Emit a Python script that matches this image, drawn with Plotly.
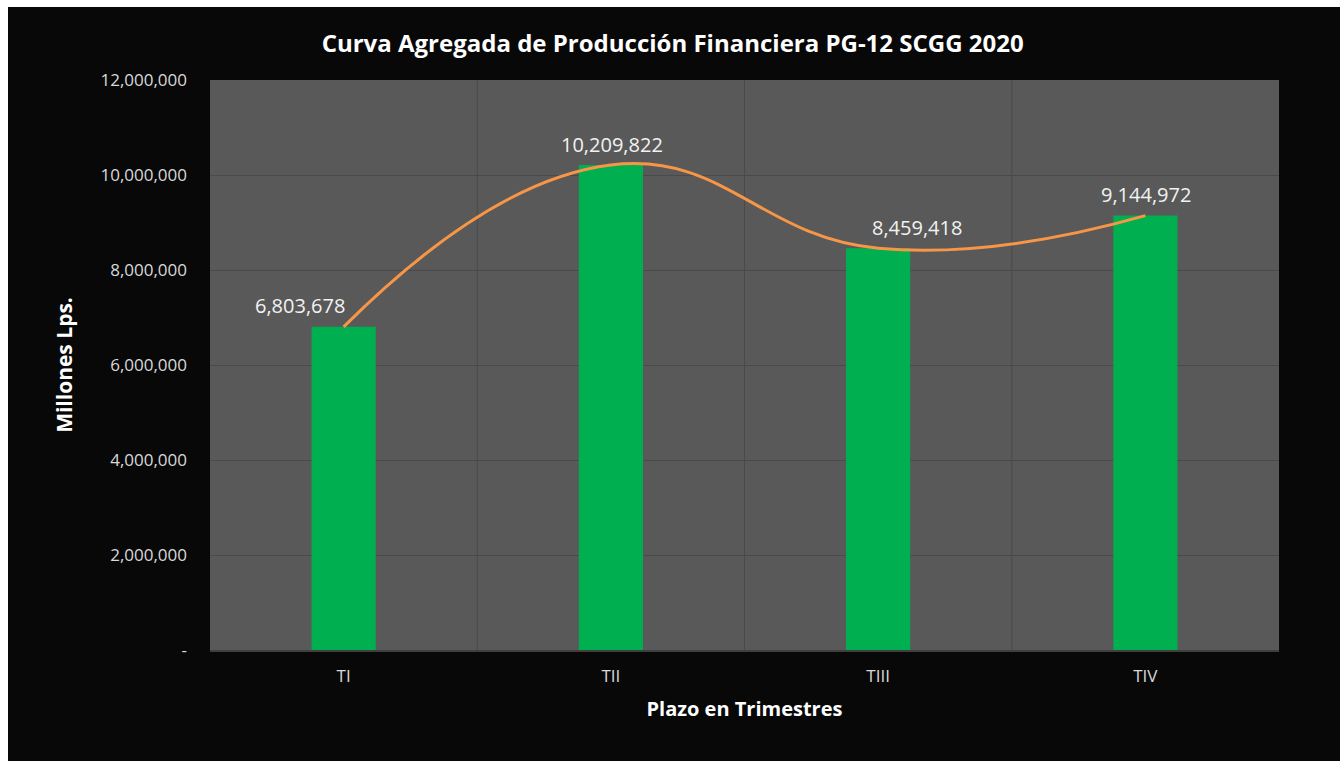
import plotly.graph_objects as go

# data
trimestres = ['TI', 'TII', 'TIII', 'TIV']
produccion = [6803678, 10209822, 8459418, 9144972]
label_dx = [-44, 1, 39, 1]

y_ticks = [0, 2000000, 4000000, 6000000, 8000000, 10000000, 12000000]
y_ticktext = ['-', '2,000,000', '4,000,000', '6,000,000', '8,000,000', '10,000,000', '12,000,000']

FONT = 'Open Sans'
W, H = 1340, 761
L, R, T, B = 210, 61, 80, 111
PW, PH = W - L - R, H - T - B

fig = go.Figure()

fig.add_trace(go.Bar(
    x=trimestres, y=produccion,
    marker=dict(color='#00B050', line=dict(width=0)),
    width=0.24,
    hoverinfo='skip',
    showlegend=False,
))

fig.add_trace(go.Scatter(
    x=trimestres, y=produccion,
    mode='lines',
    line=dict(color='#F79646', width=3, shape='spline', smoothing=1.3),
    showlegend=False,
))

annotations = []
for t, v, dx in zip(trimestres, produccion, label_dx):
    annotations.append(dict(
        x=t, y=v, text=f'{v:,}',
        showarrow=False, xshift=dx, yshift=21,
        font=dict(family=FONT, size=20, color='#F2F2F2'),
    ))


def px_rect(x0, x1, y0, y1, color):
    # rectangle given in page pixels, converted to paper coords
    return dict(type='rect', xref='paper', yref='paper', layer='above',
                x0=(x0 - L) / PW, x1=(x1 - L) / PW,
                y0=(H - B - y1) / PH, y1=(H - B - y0) / PH,
                fillcolor=color, line=dict(width=0))


fig.update_layout(
    width=W, height=H,
    margin=dict(l=L, r=R, t=T, b=B),
    paper_bgcolor='#080808',
    plot_bgcolor='#595959',
    title=dict(
        text='<b>Curva Agregada de Producción Financiera PG-12 SCGG 2020</b>',
        x=0.502, xanchor='center', y=0.943, yanchor='middle',
        font=dict(family=FONT, size=24, color='white'),
    ),
    xaxis=dict(
        showgrid=False,
        tickfont=dict(family=FONT, size=17, color='#D9D9D9'),
        ticklabelstandoff=10,
        title=dict(text='<b>Plazo en Trimestres</b>', standoff=16,
                   font=dict(family=FONT, size=20, color='white')),
        ticks='', showline=True, linecolor='#3F3F3F', linewidth=2,
    ),
    yaxis=dict(
        range=[0, 12000000],
        tickvals=y_ticks, ticktext=y_ticktext,
        gridcolor='#4A4A4A', gridwidth=1,
        zeroline=False,
        tickfont=dict(family=FONT, size=17, color='#D9D9D9'),
        ticklabelstandoff=22,
        title=dict(text='<b>Millones Lps.</b>', standoff=22,
                   font=dict(family=FONT, size=21, color='white')),
    ),
    shapes=[
        # white page edge round the black chart area
        px_rect(0, 8, 0, H, 'white'),
        px_rect(0, W, 0, 7, 'white'),
        # vertical gridlines between categories
        *[dict(type='line', xref='x', yref='paper', layer='below',
               x0=i + 0.5, x1=i + 0.5, y0=0, y1=1,
               line=dict(color='#4A4A4A', width=1)) for i in range(3)],
    ],
    annotations=annotations,
)

fig.write_html('out.html', config={'displayModeBar': False},
               post_script="document.body.style.margin='0';")
